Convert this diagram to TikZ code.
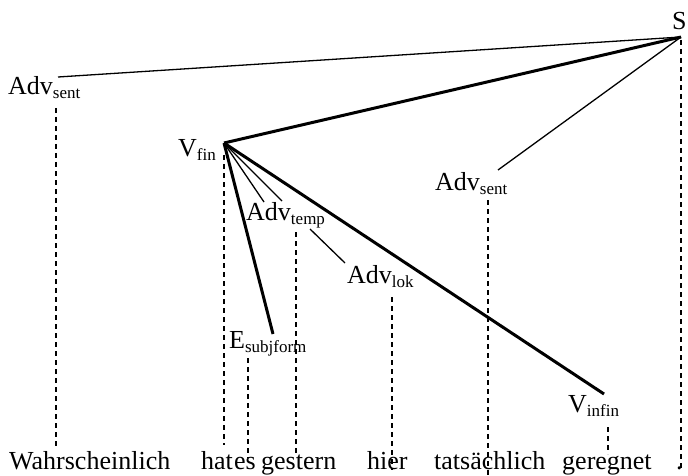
\documentclass[tikz,border=0pt]{standalone}
\usepackage{fontspec}
\setmainfont{Liberation Serif}
\newcommand{\lbl}[2]{#1\raisebox{-4pt}{\fontsize{17}{17}\selectfont #2}}
\begin{document}
\begin{tikzpicture}[x=1pt,y=-1pt,
  txt/.style={inner sep=0pt,anchor=base west,font=\fontsize{26}{30}\selectfont},
  thin/.style={line width=1.3pt},
  thick/.style={line width=3pt},
  dsh/.style={line width=1.3pt,dash pattern=on 5pt off 4pt}]
\useasboundingbox (0,0) rectangle (688,476);
% labels
\node[txt] (S) at (672,30) {S};
\node[txt] (as1) at (8,95) {\lbl{Adv}{sent}};
\node[txt] (vfin) at (178,157) {\lbl{V}{fin}};
\node[txt] (atemp) at (246,220) {\lbl{Adv}{temp}};
\node[txt] (alok) at (347,283) {\lbl{Adv}{lok}};
\node[txt] (as2) at (435,190) {\lbl{Adv}{sent}};
\node[txt] (vinf) at (568,412) {\lbl{V}{infin}};
\node[txt] (esub) at (229,348) {\lbl{E}{subjform}};
% words
\node[txt] (w1) at (9,469) {Wahrscheinlich};
\node[txt] (w2) at (201,469) {hat};
\node[txt] (w3) at (234,469) {es};
\node[txt] (w4) at (261,469) {gestern};
\node[txt] (w5) at (367,469) {hier};
\node[txt] (w6) at (434,469) {tatsächlich};
\node[txt] (w7) at (562,469) {geregnet};
\node[txt] (w8) at (676,469) {.};
% attachment points
\coordinate (Sp) at (681,37);
\coordinate (as1p) at (58,77);
\coordinate (vfinp) at (224,143);
\coordinate (as2p) at (498,170);
\coordinate (esubp) at (273,334);
\coordinate (atempa) at (264,202);
\coordinate (atempb) at (282,201);
\coordinate (atempc) at (310,229);
\coordinate (alokp) at (345,263);
\coordinate (vinfp) at (604,394);
% tree edges
\draw[thin] (Sp) -- (as1p);
\draw[thick] (Sp) -- (vfinp);
\draw[thin] (Sp) -- (as2p);
\draw[thick] (vfinp) -- (esubp);
\draw[thin] (vfinp) -- (atempa);
\draw[thin] (vfinp) -- (atempb);
\draw[thick] (vfinp) -- (vinfp);
\draw[thin] (atempc) -- (alokp);
% projection lines
\coordinate (d1a) at (56,108); \coordinate (d1b) at (56,448);
\coordinate (d2a) at (224,155); \coordinate (d2b) at (224,445);
\coordinate (d3a) at (248,358); \coordinate (d3b) at (248,458);
\coordinate (d4a) at (296,232); \coordinate (d4b) at (296,455);
\coordinate (d5a) at (392,297); \coordinate (d5b) at (392,470);
\coordinate (d6a) at (488,200); \coordinate (d6b) at (488,476);
\coordinate (d7a) at (608,427); \coordinate (d7b) at (608,454);
\coordinate (d8a) at (681,40); \coordinate (d8b) at (681,470);
\foreach \i in {1,...,8} \draw[dsh] (d\i a) -- (d\i b);
\end{tikzpicture}
\end{document}
